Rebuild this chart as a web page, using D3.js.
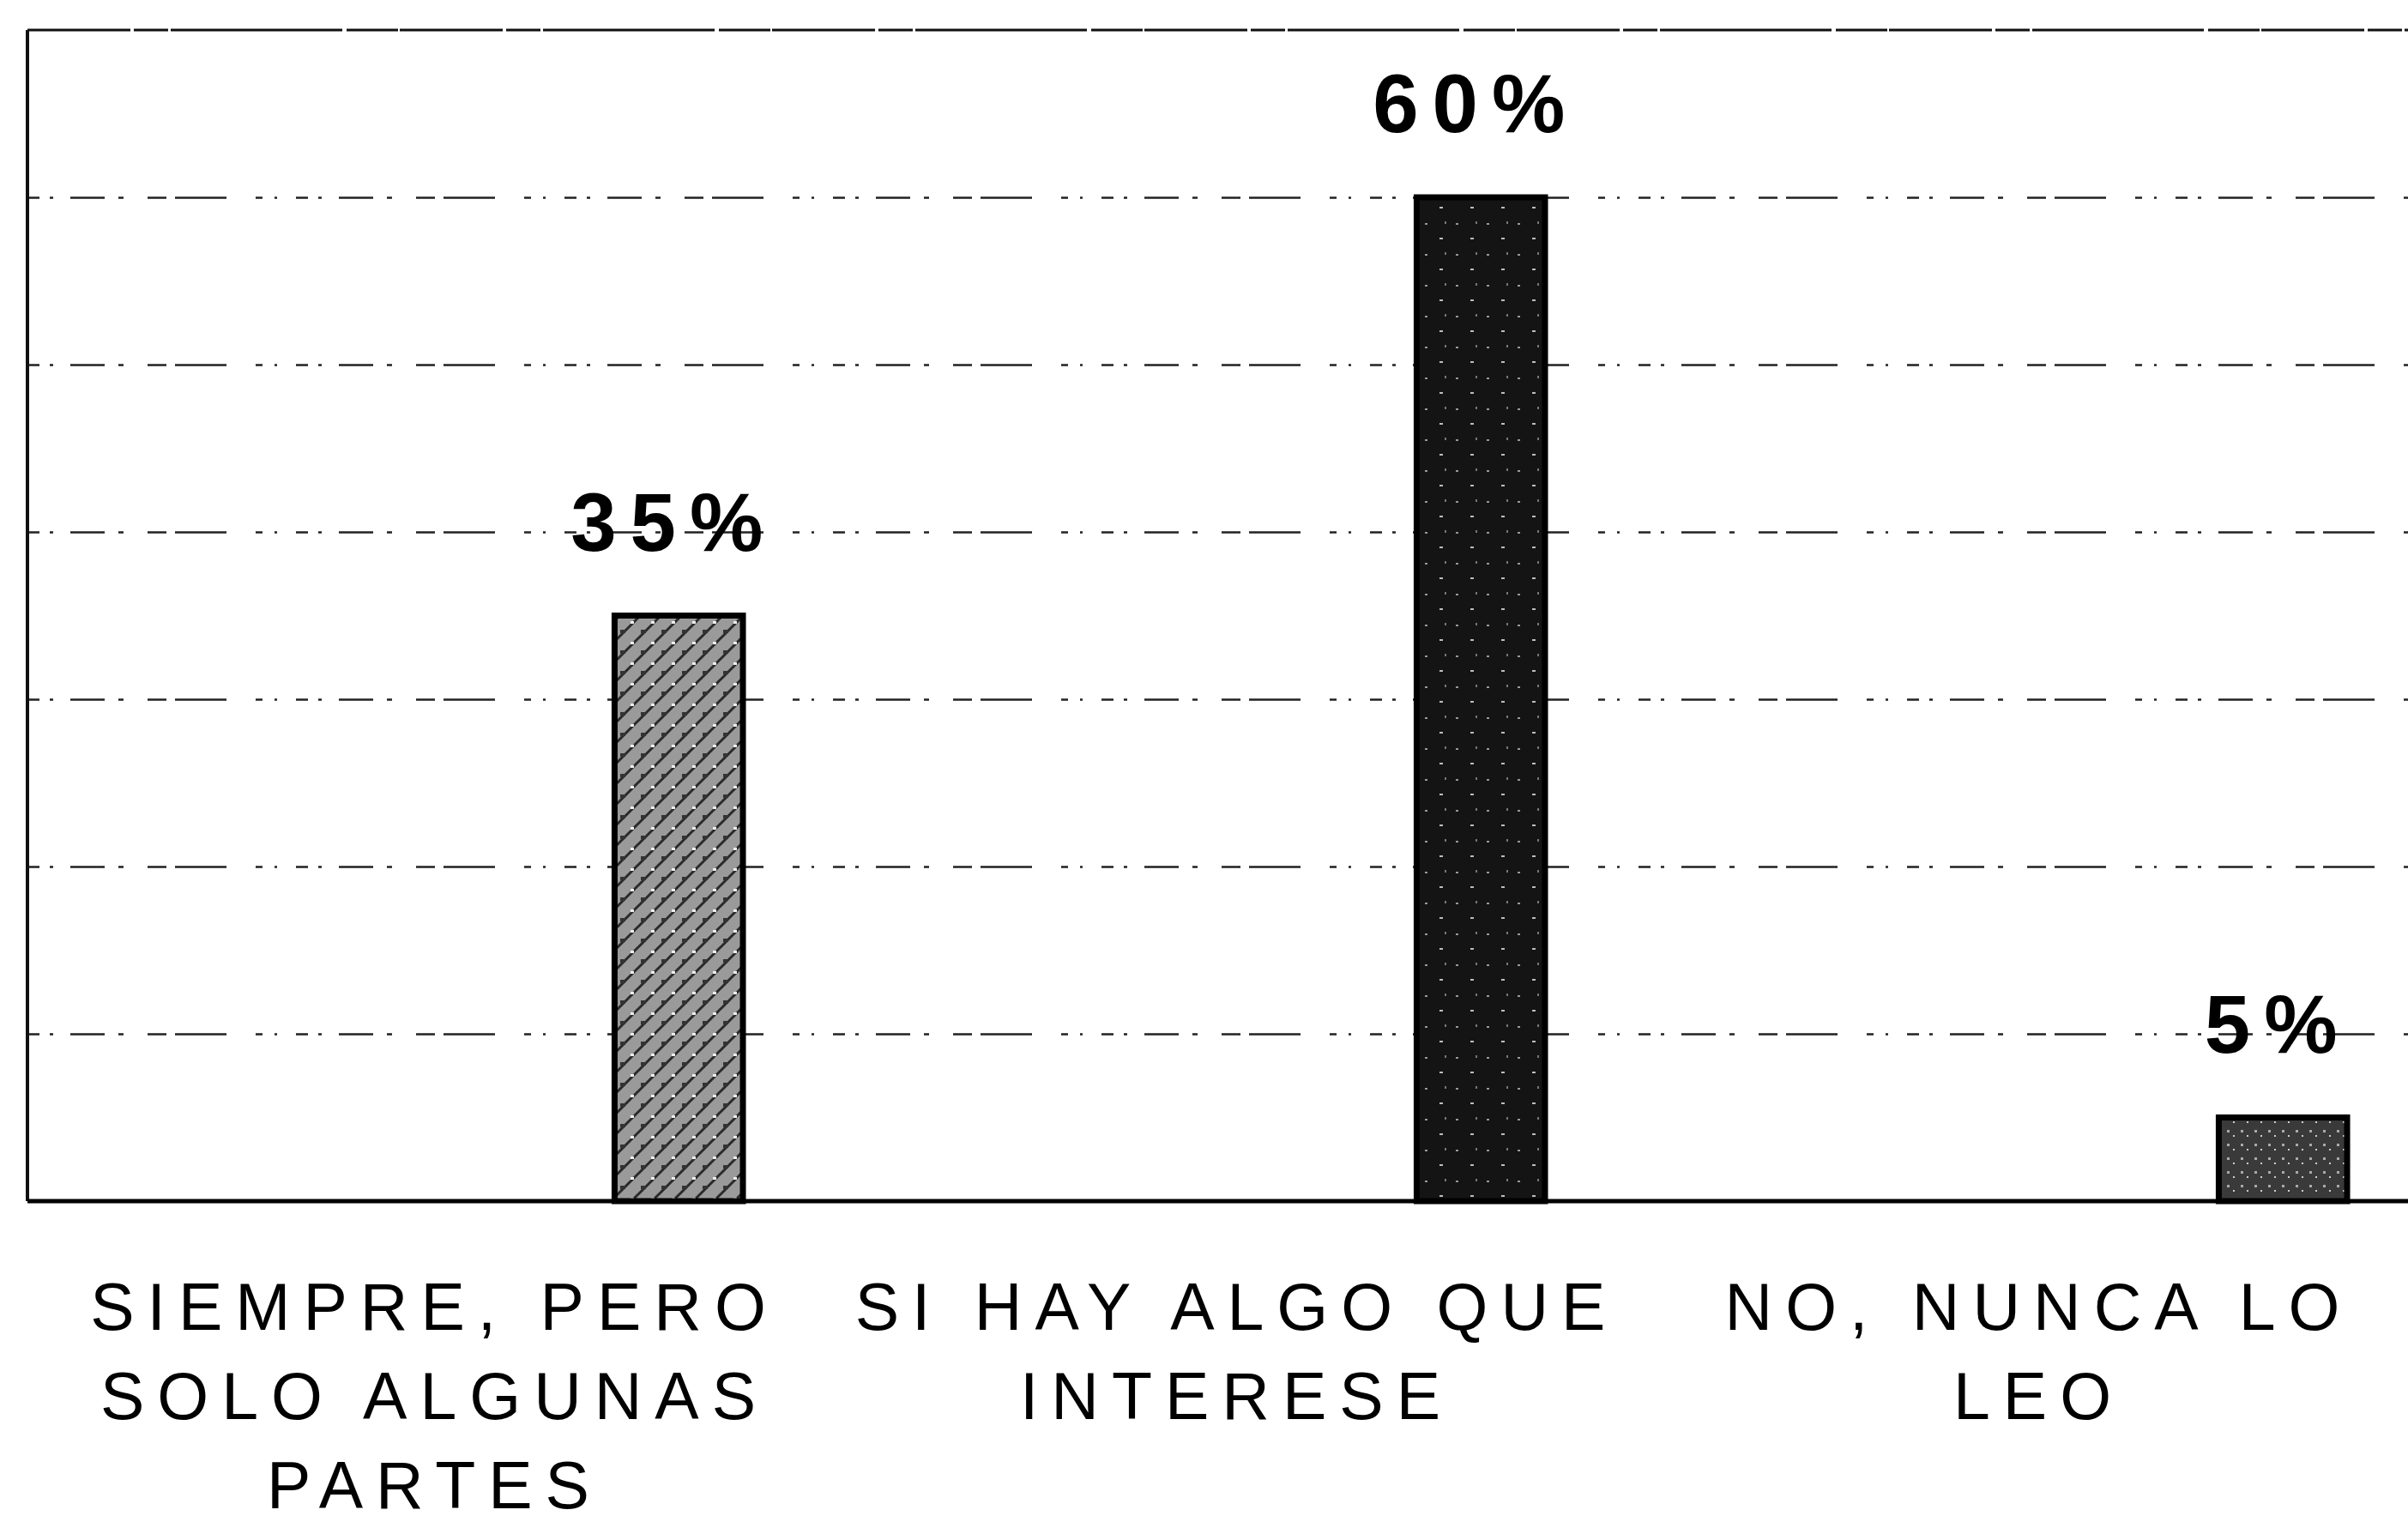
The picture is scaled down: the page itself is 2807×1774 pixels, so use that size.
<!DOCTYPE html>
<html>
<head>
<meta charset="utf-8">
<script src="https://cdn.jsdelivr.net/npm/d3@7"></script>
<style>
  html, body { margin: 0; padding: 0; background: #fff; }
  svg { display: block; }
</style>
</head>
<body>
<svg id="chart" width="2807" height="1774"></svg>
<script>
// ---- data ----
const categories = ["SIEMPRE, PERO SOLO ALGUNAS PARTES", "SI HAY ALGO QUE INTERESE", "NO, NUNCA LO LEO"];
const categoryLines = [["SIEMPRE, PERO", "SOLO ALGUNAS", "PARTES"], ["SI HAY ALGO QUE", "INTERESE"], ["NO, NUNCA LO", "LEO"]];
const values = [35, 60, 5];
const valueLabels = ["35%", "60%", "5%"];
const gridTicks = [10, 20, 30, 40, 50, 60];
const yMax = 70;

// ---- layout ----
const W = 2807, H = 1774;
const plotLeft = 32, plotTop = 35, plotBottom = 1400, plotRight = 2837;

const svg = d3.select("#chart");

const x = d3.scaleBand().domain(categories).range([plotLeft, plotRight]).paddingInner(0).paddingOuter(0);
const y = d3.scaleLinear().domain([0, yMax]).range([plotBottom, plotTop]);

const bw = x.bandwidth();
const barW = bw * 0.16;
const barShift = bw * 0.312;

// ---- patterns (scan-like textures) ----
const defs = svg.append("defs");
const p1 = defs.append("pattern").attr("id", "tex0").attr("patternUnits", "userSpaceOnUse")
  .attr("width", 24).attr("height", 24);
p1.append("rect").attr("width", 24).attr("height", 24).attr("fill", "#9a9a9a");
p1.append("path").attr("d", "M0,24 L24,0 M-6,6 L6,-6 M18,30 L30,18").attr("stroke", "#2a2a2a").attr("stroke-width", 3);
p1.append("rect").attr("x", 3).attr("y", 14).attr("width", 6).attr("height", 4).attr("fill", "#333");
p1.append("rect").attr("x", 15).attr("y", 4).attr("width", 4).attr("height", 3).attr("fill", "#eee");

const p2 = defs.append("pattern").attr("id", "tex1").attr("patternUnits", "userSpaceOnUse")
  .attr("width", 36).attr("height", 36);
p2.append("rect").attr("width", 36).attr("height", 36).attr("fill", "#141414");
p2.append("rect").attr("x", 5).attr("y", 8).attr("width", 3).attr("height", 2).attr("fill", "#9a9a9a");
p2.append("rect").attr("x", 22).attr("y", 25).attr("width", 4).attr("height", 2).attr("fill", "#bdbdbd");
p2.append("rect").attr("x", 28).attr("y", 6).attr("width", 2).attr("height", 3).attr("fill", "#777");

const p3 = defs.append("pattern").attr("id", "tex2").attr("patternUnits", "userSpaceOnUse")
  .attr("width", 16).attr("height", 16);
p3.append("rect").attr("width", 16).attr("height", 16).attr("fill", "#3a3a3a");
p3.append("rect").attr("x", 4).attr("y", 5).attr("width", 3).attr("height", 3).attr("fill", "#aaa");
p3.append("rect").attr("x", 11).attr("y", 11).attr("width", 2).attr("height", 2).attr("fill", "#ccc");

// ---- gridlines ----
const grid = svg.append("g")
  .attr("transform", `translate(${plotLeft},0)`)
  .call(d3.axisLeft(y).tickValues(gridTicks).tickSize(-(W - plotLeft)).tickFormat(""));
grid.select(".domain").remove();
grid.selectAll(".tick line")
  .attr("stroke", "#222")
  .attr("stroke-width", 2.5)
  .attr("stroke-dasharray", "14,12,4,20,40,16,6,28,22,10,60,34,8,14,3,22");

// ---- frame ----
svg.append("line").attr("x1", plotLeft).attr("x2", W).attr("y1", y(yMax)).attr("y2", y(yMax))
  .attr("stroke", "#111").attr("stroke-width", 3).attr("stroke-dasharray", "120,4,40,3,200,5,60,2");
svg.append("line").attr("x1", plotLeft).attr("x2", plotLeft).attr("y1", y(yMax)).attr("y2", y(0))
  .attr("stroke", "#111").attr("stroke-width", 4);

// ---- bars ----
svg.append("g").selectAll("rect")
  .data(values)
  .join("rect")
  .attr("x", (d, i) => x(categories[i]) + bw / 2 + barShift - barW / 2)
  .attr("y", d => y(d))
  .attr("width", barW)
  .attr("height", d => y(0) - y(d))
  .attr("fill", (d, i) => `url(#tex${i})`)
  .attr("stroke", "#000")
  .attr("stroke-width", 7);

// ---- baseline ----
svg.append("line").attr("x1", plotLeft).attr("x2", W).attr("y1", y(0)).attr("y2", y(0))
  .attr("stroke", "#000").attr("stroke-width", 5);

// ---- value labels ----
svg.append("g").selectAll("text")
  .data(values)
  .join("text")
  .attr("x", (d, i) => x(categories[i]) + bw / 2 + barShift - 6)
  .attr("y", d => y(d) - 76)
  .attr("text-anchor", "middle")
  .attr("font-family", "'Liberation Sans', Arial, sans-serif")
  .attr("font-weight", "bold")
  .attr("font-size", 96)
  .attr("letter-spacing", 16)
  .attr("fill", "#000")
  .text((d, i) => valueLabels[i]);

// ---- category labels ----
const lineGap = 104;
const firstBaseline = 1550;
const cat = svg.append("g").selectAll("text")
  .data(categories)
  .join("text")
  .attr("text-anchor", "middle")
  .attr("font-family", "'Liberation Sans', Arial, sans-serif")
  .attr("font-size", 77)
  .attr("letter-spacing", 15)
  .attr("fill", "#000");
cat.each(function (c, i) {
  const t = d3.select(this);
  categoryLines[i].forEach((ln, j) => {
    t.append("tspan")
      .attr("x", x(c) + bw / 2 + 7)
      .attr("y", firstBaseline + j * lineGap)
      .text(ln);
  });
});
</script>
</body>
</html>
